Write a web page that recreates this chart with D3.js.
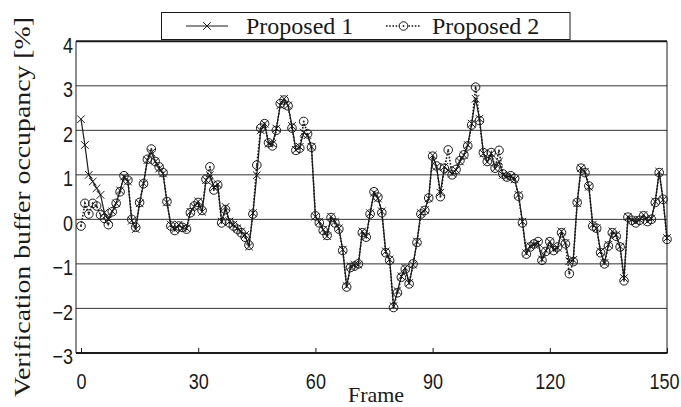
<!DOCTYPE html>
<html>
<head>
<meta charset="utf-8">
<script src="https://cdn.jsdelivr.net/npm/d3@7"></script>
<style>
  body { margin: 0; background: #fff; }
  svg { display: block; }
</style>
</head>
<body>
<script>
const width = 681;
const height = 407;

// frame numbers 0..150 (one sample per frame)
const frames = d3.range(0, 151);

// Proposed 1 (solid, x markers)
const proposed1 = [
  2.25, 1.67, 1.0, 0.85, 0.7, 0.55, 0.15, 0.0, 0.18, 0.36,
  0.65, 0.96, 0.85, -0.03, -0.22, 0.36, 0.81, 1.33, 1.5, 1.3,
  1.14, 1.03, 0.38, -0.12, -0.23, -0.12, -0.2, -0.2, 0.17, 0.28,
  0.4, 0.17, 0.88, 0.99, 0.72, 0.79, -0.05, 0.28, -0.05, -0.12,
  -0.2, -0.27, -0.35, -0.61, 0.14, 0.99, 2.0, 2.15, 1.7, 1.7,
  2.04, 2.56, 2.71, 2.56, 2.1, 1.56, 1.63, 1.95, 1.89, 1.63,
  0.06, -0.05, -0.23, -0.38, 0.06, -0.05, -0.2, -0.68, -1.5, -1.05,
  -1.02, -1.02, -0.27, -0.38, 0.14, 0.6, 0.47, 0.18, -0.72, -0.9,
  -1.95, -1.61, -1.28, -1.09, -1.43, -1.02, -0.5, 0.14, 0.21, 0.47,
  1.44, 1.18, 0.6, 1.18, 1.1, 1.03, 1.11, 1.3, 1.44, 1.67,
  2.15, 2.71, 2.26, 1.48, 1.29, 1.48, 1.14, 1.3, 1.0, 0.96,
  0.96, 0.9, 0.55, -0.05, -0.76, -0.6, -0.57, -0.53, -0.9, -0.7,
  -0.5, -0.68, -0.64, -0.27, -0.53, -0.94, -0.91, 0.36, 1.15, 1.07,
  0.73, -0.12, -0.2, -0.72, -0.98, -0.57, -0.27, -0.35, -0.61, -1.32,
  0.06, -0.01, -0.05, -0.01, 0.1, -0.05, 0.02, 0.4, 1.07, 0.44,
  -0.42
];

// Proposed 2 (dotted, circle markers)
const proposed2 = [
  -0.15, 0.36, 0.12, 0.36, 0.3, 0.1, 0.02, -0.12, 0.17, 0.36,
  0.62, 0.98, 0.88, 0.0, -0.18, 0.38, 0.8, 1.35, 1.58, 1.3,
  1.18, 1.05, 0.4, -0.15, -0.25, -0.15, -0.18, -0.22, 0.15, 0.3,
  0.38, 0.2, 0.9, 1.18, 0.66, 0.77, -0.08, 0.22, -0.08, -0.15,
  -0.22, -0.3, -0.4, -0.58, 0.12, 1.22, 2.05, 2.15, 1.72, 1.65,
  2.0, 2.6, 2.68, 2.55, 2.05, 1.55, 1.6, 2.2, 1.92, 1.62,
  0.08, -0.08, -0.25, -0.36, 0.04, -0.08, -0.22, -0.7, -1.52, -1.08,
  -1.05, -1.0, -0.3, -0.4, 0.12, 0.62, 0.5, 0.15, -0.75, -0.92,
  -1.98, -1.65, -1.3, -1.12, -1.45, -1.0, -0.52, 0.12, 0.2, 0.48,
  1.42, 1.2, 0.51, 1.15, 1.56, 1.0, 1.12, 1.32, 1.45, 1.65,
  2.12, 2.97, 2.22, 1.5, 1.3, 1.5, 1.15, 1.55, 1.02, 0.95,
  0.98, 0.92, 0.52, -0.08, -0.78, -0.62, -0.55, -0.5, -0.92, -0.72,
  -0.5, -0.7, -0.62, -0.3, -0.55, -1.22, -0.95, 0.38, 1.15, 1.05,
  0.75, -0.15, -0.2, -0.75, -1.0, -0.6, -0.3, -0.38, -0.62, -1.38,
  0.05, -0.02, -0.08, -0.02, 0.08, -0.05, 0.0, 0.38, 1.05, 0.45,
  -0.45
];

const xTicks = [0, 30, 60, 90, 120, 150];
const yTicks = [-3, -2, -1, 0, 1, 2, 3, 4];
const seriesNames = ["Proposed 1", "Proposed 2"];

const plotLeft = 76;
const plotRight = 667;
const plotTop = 41.3;
const plotBottom = 352.9;

const x = d3.scaleLinear().domain([0, 150]).range([81, 667]);
const y = d3.scaleLinear().domain([-3, 4]).range([plotBottom, plotTop]);

const ink = "#1a1a1a";
const numFont = "'Liberation Sans', Arial, sans-serif";
const serifFont = "'Liberation Serif', 'Times New Roman', serif";
const narrow = 0.82; // tick numbers are set in a condensed face

const svg = d3.select("body").append("svg")
  .attr("width", width)
  .attr("height", height);

svg.append("rect").attr("width", width).attr("height", height).attr("fill", "#fff");

// horizontal grid lines
svg.append("g")
  .selectAll("line")
  .data(yTicks.filter((d) => d > -3 && d < 4))
  .enter()
  .append("line")
  .attr("x1", plotLeft)
  .attr("x2", plotRight)
  .attr("y1", (d) => y(d))
  .attr("y2", (d) => y(d))
  .attr("stroke", "#333")
  .attr("stroke-width", 1);

// frame of the plot
svg.append("line").attr("x1", plotLeft).attr("x2", plotRight)
  .attr("y1", plotTop).attr("y2", plotTop)
  .attr("stroke", ink).attr("stroke-width", 2);
svg.append("line").attr("x1", plotLeft).attr("x2", plotRight + 0.5)
  .attr("y1", plotBottom).attr("y2", plotBottom)
  .attr("stroke", ink).attr("stroke-width", 2);
svg.append("line").attr("x1", plotLeft).attr("x2", plotLeft)
  .attr("y1", plotTop).attr("y2", plotBottom)
  .attr("stroke", ink).attr("stroke-width", 1);
svg.append("line").attr("x1", plotRight).attr("x2", plotRight)
  .attr("y1", plotTop).attr("y2", plotBottom)
  .attr("stroke", ink).attr("stroke-width", 1);

// x axis: inward ticks and labels
const xAxis = svg.append("g")
  .attr("transform", `translate(0,${plotBottom})`)
  .call(d3.axisBottom(x).tickValues(xTicks).tickSize(-5).tickPadding(20));
xAxis.select(".domain").remove();
xAxis.selectAll(".tick line").attr("stroke", ink).attr("stroke-width", 1);
xAxis.selectAll(".tick text")
  .attr("fill", ink)
  .attr("transform", (d) => `translate(${d === 150 ? -3 : 0},0) scale(${narrow},1)`)
  .style("font-family", numFont)
  .style("font-size", "22px");

// y axis labels
const yAxis = svg.append("g")
  .attr("transform", `translate(${plotLeft},0)`)
  .call(d3.axisLeft(y).tickValues(yTicks).tickSize(0).tickPadding(0)
    .tickFormat((d) => (d < 0 ? "\u2212" + Math.abs(d) : d)));
yAxis.select(".domain").remove();
yAxis.selectAll(".tick text")
  .attr("fill", ink)
  .attr("x", 0)
  .attr("dy", "0.5em")
  .attr("transform", `translate(-3,0) scale(${narrow},1)`)
  .style("font-family", numFont)
  .style("font-size", "22px");

// axis titles
svg.append("text")
  .attr("x", 376)
  .attr("y", 402)
  .attr("text-anchor", "middle")
  .attr("fill", ink)
  .style("font-family", serifFont)
  .style("font-size", "22px")
  .text("Frame");

svg.append("text")
  .attr("transform", "translate(30,207) rotate(-90)")
  .attr("text-anchor", "middle")
  .attr("fill", ink)
  .attr("textLength", 380)
  .attr("lengthAdjust", "spacingAndGlyphs")
  .style("font-family", serifFont)
  .style("font-size", "24px")
  .text("Verification buffer occupancy  [%]");

// series
const line = (vals) => d3.line()
  .x((d) => x(d))
  .y((d) => y(vals[d]))(frames);

svg.append("path")
  .attr("d", line(proposed2))
  .attr("fill", "none")
  .attr("stroke", ink)
  .attr("stroke-width", 1.6)
  .attr("stroke-dasharray", "1.6,1.6");

const circles = svg.append("g")
  .selectAll("g")
  .data(frames)
  .enter()
  .append("g")
  .attr("transform", (d) => `translate(${x(d)},${y(proposed2[d])})`);
circles.append("circle")
  .attr("r", 4.3)
  .attr("fill", "none")
  .attr("stroke", ink)
  .attr("stroke-width", 1);
circles.append("circle")
  .attr("r", 0.9)
  .attr("fill", ink);

svg.append("path")
  .attr("d", line(proposed1))
  .attr("fill", "none")
  .attr("stroke", ink)
  .attr("stroke-width", 1.2);

const crossPath = "M-3.8,-3.8L3.8,3.8M-3.8,3.8L3.8,-3.8";
svg.append("g")
  .selectAll("path")
  .data(frames)
  .enter()
  .append("path")
  .attr("d", crossPath)
  .attr("transform", (d) => `translate(${x(d)},${y(proposed1[d])})`)
  .attr("stroke", ink)
  .attr("stroke-width", 1);

// legend
const legend = svg.append("g");
legend.append("rect")
  .attr("x", 161.5)
  .attr("y", 12.5)
  .attr("width", 408.5)
  .attr("height", 27)
  .attr("fill", "#fff")
  .attr("stroke", ink)
  .attr("stroke-width", 1);

legend.append("line")
  .attr("x1", 186).attr("x2", 228).attr("y1", 26).attr("y2", 26)
  .attr("stroke", ink).attr("stroke-width", 1.2);
legend.append("path")
  .attr("d", crossPath)
  .attr("transform", "translate(207,26)")
  .attr("stroke", ink).attr("stroke-width", 1);

legend.append("line")
  .attr("x1", 386).attr("x2", 421).attr("y1", 26).attr("y2", 26)
  .attr("stroke", ink).attr("stroke-width", 1.6)
  .attr("stroke-dasharray", "1.6,1.6");
legend.append("circle")
  .attr("cx", 403.5).attr("cy", 26).attr("r", 4.3)
  .attr("fill", "#fff").attr("stroke", ink).attr("stroke-width", 1);
legend.append("circle")
  .attr("cx", 403.5).attr("cy", 26).attr("r", 0.9)
  .attr("fill", ink);

legend.selectAll("text.name")
  .data(seriesNames)
  .enter()
  .append("text")
  .attr("class", "name")
  .attr("x", (d, i) => (i === 0 ? 246 : 432))
  .attr("y", 34)
  .attr("fill", ink)
  .style("font-family", serifFont)
  .style("font-size", "24px")
  .text((d) => d);
</script>
</body>
</html>
